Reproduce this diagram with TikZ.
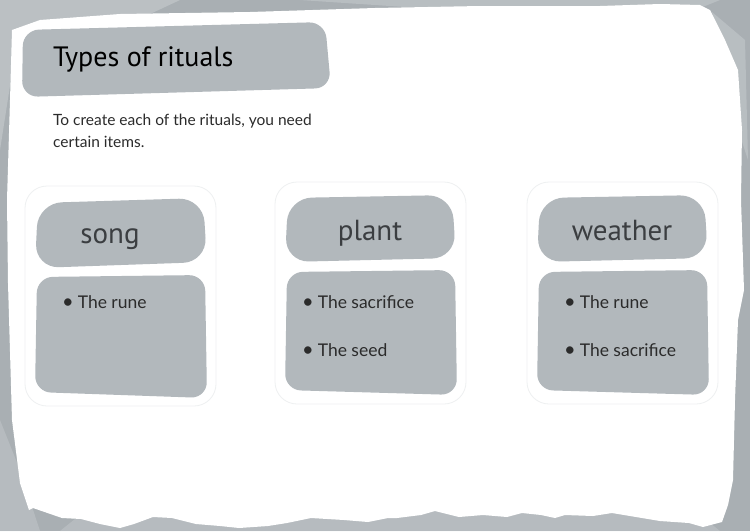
\documentclass[tikz,border=0pt]{standalone}
\usepackage{fontspec}
\setmainfont{Lato}
\newfontfamily\headfont{PT Sans}
\usepackage{tikz}
\usetikzlibrary{calc}
\definecolor{bordergrey}{HTML}{A9AFB3}
\definecolor{patchgrey}{HTML}{C3C8CB}
\definecolor{boxgrey}{HTML}{B2B8BC}
\definecolor{ghostgrey}{HTML}{EEF0F1}
\definecolor{headink}{HTML}{3B3E41}
\definecolor{bodyink}{HTML}{2B2B2B}

\begin{document}
\begin{tikzpicture}[x=1pt,y=-1pt,
    blob/.style={fill=boxgrey,rounded corners=16pt},
    pillow/.style={fill=boxgrey,rounded corners=24pt},
    ghost/.style={draw=ghostgrey,line width=0.8pt,rounded corners=22pt},
    title/.style={anchor=base west,inner sep=0pt,text=black,font=\headfont\fontsize{28}{28}\selectfont},
    intro/.style={anchor=base west,inner sep=0pt,text=bodyink,align=left,font=\fontsize{15.5}{22}\selectfont},
    head/.style={anchor=base,inner sep=0pt,text=headink,font=\headfont\fontsize{29}{29}\selectfont},
    item/.style={anchor=base west,inner sep=0pt,text=bodyink,font=\fontsize{17.5}{17.5}\selectfont}]
  \useasboundingbox (0,0) rectangle (750,531);

  % grey border with lighter patches
  \fill[bordergrey] (0,0) rectangle (750,531);
  \fill[patchgrey,opacity=0.7] (0,0) -- (180,0) -- (150,14) -- (40,22) -- (14,60) -- (0,150) -- cycle;
  \fill[patchgrey,opacity=0.6] (300,0) -- (720,0) -- (700,8) -- (420,8) -- cycle;
  \fill[patchgrey,opacity=0.6] (712,12) -- (745,40) -- (748,160) -- (735,120) -- (725,60) -- cycle;
  \fill[patchgrey,opacity=0.5] (60,531) -- (80,515) -- (300,512) -- (500,508) -- (700,515) -- (720,531) -- cycle;
  \fill[patchgrey,opacity=0.5] (0,420) -- (20,470) -- (40,531) -- (0,531) -- cycle;

  % white page
  \fill[white] (12,30) -- (40,20) -- (120,14) -- (250,12) -- (375,8) -- (480,6)
    -- (600,6) -- (660,4) -- (700,5) -- (710,10) -- (725,40) -- (738,70)
    -- (742,130) -- (741,200) -- (743,260) -- (744,290) -- (738,320)
    -- (735,400) -- (733,480) -- (728,505) -- (722,522) -- (703,527)
    -- (689,523) -- (660,521) -- (636,517) -- (612,513) -- (593,516)
    -- (565,515) -- (555,518) -- (541,515) -- (522,513) -- (507,517)
    -- (483,515) -- (459,517) -- (435,511) -- (421,515) -- (397,518)
    -- (388,518) -- (368,522) -- (344,520) -- (311,518) -- (287,523)
    -- (268,526) -- (239,528) -- (220,526) -- (196,524) -- (172,518)
    -- (153,517) -- (134,524) -- (120,528) -- (100,524) -- (81,519)
    -- (62,518) -- (33,508) -- (29,510) -- (20,483) -- (12,420)
    -- (8,283) -- (7,200) -- (10,100) -- cycle;

  % title
  \fill[blob] (22,97) -- (23,30) -- (325,22) -- (331,88) -- cycle;
  \node[title] (heading) at (53,66) {Types of rituals};
  \node[intro] (intro) at (53,147) {To create each of the rituals, you need\\certain items.};

  % faint outlines
  \draw[ghost] (25,186) rectangle (216,406);
  \draw[ghost] (275,182) rectangle (466,404);
  \draw[ghost] (527,182) rectangle (718,404);

  % song
  \fill[pillow] (35,268) -- (38,203) -- (203,198) -- (207,262) -- cycle;
  \fill[blob] (35,392) -- (37,277) -- (205,275) -- (207,398) -- cycle;
  \node[head] (song) at (110,243) {song};
  \node[item] (songrune) at (62,308) {{\fontsize{20}{20}\selectfont\textbullet}\hspace{4pt}The rune};

  % plant
  \fill[pillow] (285,262) -- (288,198) -- (452,195) -- (456,258) -- cycle;
  \fill[blob] (285,390) -- (287,272) -- (455,270) -- (457,395) -- cycle;
  \node[head] (plant) at (370,240) {plant};
  \node[item] (plantsacrifice) at (302,308) {{\fontsize{20}{20}\selectfont\textbullet}\hspace{4pt}The sacrifice};
  \node[item] (plantseed) at (302,356) {{\fontsize{20}{20}\selectfont\textbullet}\hspace{4pt}The seed};

  % weather
  \fill[pillow] (537,262) -- (540,198) -- (704,195) -- (708,258) -- cycle;
  \fill[blob] (537,390) -- (539,272) -- (707,270) -- (709,395) -- cycle;
  \node[head] (weather) at (622,240) {weather};
  \node[item] (weatherrune) at (564,308) {{\fontsize{20}{20}\selectfont\textbullet}\hspace{4pt}The rune};
  \node[item] (weathersacrifice) at (564,356) {{\fontsize{20}{20}\selectfont\textbullet}\hspace{4pt}The sacrifice};
\end{tikzpicture}
\end{document}
